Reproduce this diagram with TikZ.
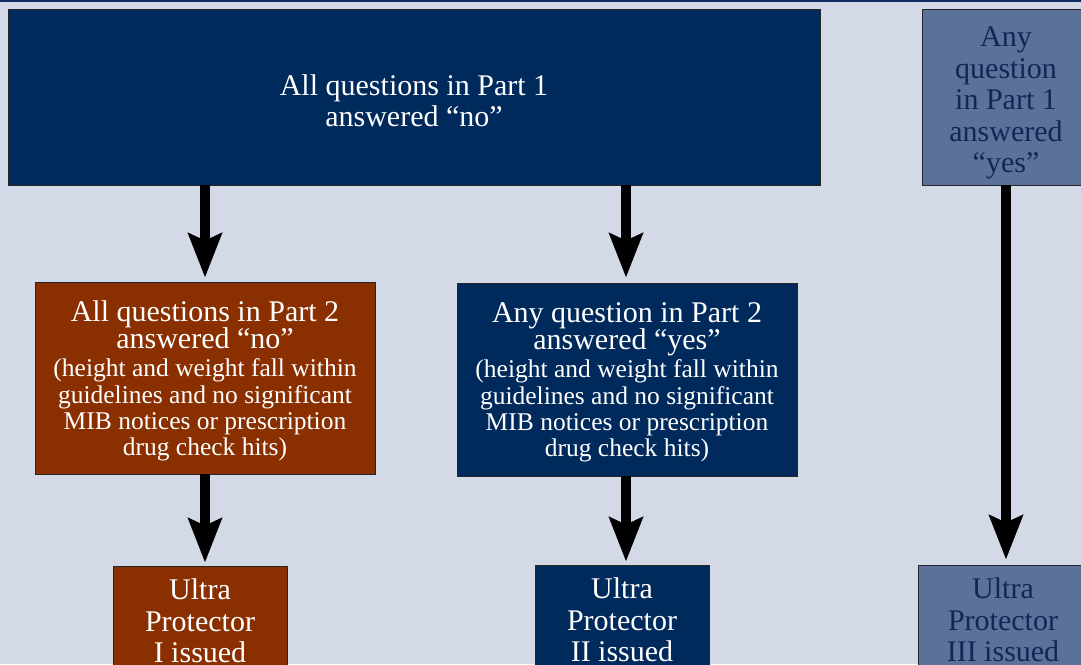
\documentclass[tikz,border=0pt]{standalone}
\usepackage{fontspec}
\setmainfont{Liberation Serif}
\usetikzlibrary{arrows.meta}
\definecolor{bgc}{RGB}{211,217,230}
\definecolor{navy}{RGB}{0,42,92}
\definecolor{rust}{RGB}{138,48,0}
\definecolor{slate}{RGB}{92,113,152}
\definecolor{navytext}{RGB}{14,40,88}
\definecolor{topline}{RGB}{10,43,99}
\tikzset{
  box/.style={draw=black!85, line width=0.8pt, inner sep=0pt},
  navybox/.style={box, fill=navy},
  rustbox/.style={box, fill=rust},
  slatebox/.style={box, fill=slate},
  wtxt/.style={text=white, align=center, inner sep=0pt, font=\fontsize{30}{31.5}\selectfont},
  ntxt/.style={wtxt, text=navytext},
  ptxt/.style={text=white, inner sep=0pt},
  bigarrow/.style={line width=10pt, -{Stealth[length=44pt,width=33pt,inset=7pt]}, draw=black}
}
\newcommand{\smalltxt}{\fontsize{25.5}{26.4}\selectfont}
\newcommand{\headtxt}{\fontsize{30}{27}\selectfont}
\newcommand{\detailtxt}{{\smalltxt (height and weight fall within\\guidelines and no significant\\MIB notices or prescription\\drug check hits)\par}}
\newcommand{\midbox}[2]{\parbox{338pt}{\centering\spaceskip=0pt\xspaceskip=0pt\lineskiplimit=-100pt\lineskip=0pt
   {\headtxt #1\\#2\par}\vspace{2pt}\detailtxt}}
\newcommand{\midLtext}{\midbox{All questions in Part 2}{answered “no”}}
\newcommand{\midCtext}{\midbox{Any question in Part 2}{answered “yes”}}
\begin{document}
\begin{tikzpicture}[x=1pt,y=-1pt]
\useasboundingbox (0,0) rectangle (1081,664);
\clip (0,0) rectangle (1081,664);
\fill[bgc] (0,0) rectangle (1081,664);
\fill[topline] (0,0) rectangle (1081,1.6);

% top row
\node[navybox, minimum width=812pt, minimum height=176pt,
  label={[wtxt, yshift=-3.5pt]center:{All questions in Part 1\\answered “no”}}] (top) at (414,97) {};
\node[slatebox, minimum width=168pt, minimum height=176pt,
  label={[ntxt, yshift=-6pt]center:{Any\\question\\in Part 1\\answered\\“yes”}}] (topR) at (1006,97) {};

% middle row
\node[rustbox, minimum width=340pt, minimum height=192pt,
  label={[ptxt, yshift=-3pt]center:{\midLtext}}] (midL) at (205,378) {};
\node[navybox, minimum width=340pt, minimum height=193pt,
  label={[ptxt, yshift=-3pt]center:{\midCtext}}] (midC) at (627,379.5) {};

% bottom row
\node[rustbox, minimum width=174pt, minimum height=110pt,
  label={[wtxt]center:{Ultra\\Protector\\I issued}}] (botL) at (200,621) {};
\node[navybox, minimum width=174pt, minimum height=110pt,
  label={[wtxt]center:{Ultra\\Protector\\II issued}}] (botC) at (622,620) {};
\node[slatebox, minimum width=170pt, minimum height=110pt,
  label={[ntxt]center:{Ultra\\Protector\\III issued}}] (botR) at (1003,620) {};

% arrows
\coordinate (a1s) at (205,0);
\coordinate (a2s) at (626,0);
\draw[bigarrow] (top.south -| a1s) -- ([yshift=4pt]midL.north -| a1s);
\draw[bigarrow] (top.south -| a2s) -- ([yshift=5pt]midC.north -| a2s);
\draw[bigarrow] (topR.south) -- ([yshift=5pt]topR.south |- botR.north);
\draw[bigarrow] (midL.south -| a1s) -- ([yshift=3pt]botL.north -| a1s);
\draw[bigarrow] (midC.south -| a2s) -- ([yshift=3pt]botC.north -| a2s);
\end{tikzpicture}
\end{document}
